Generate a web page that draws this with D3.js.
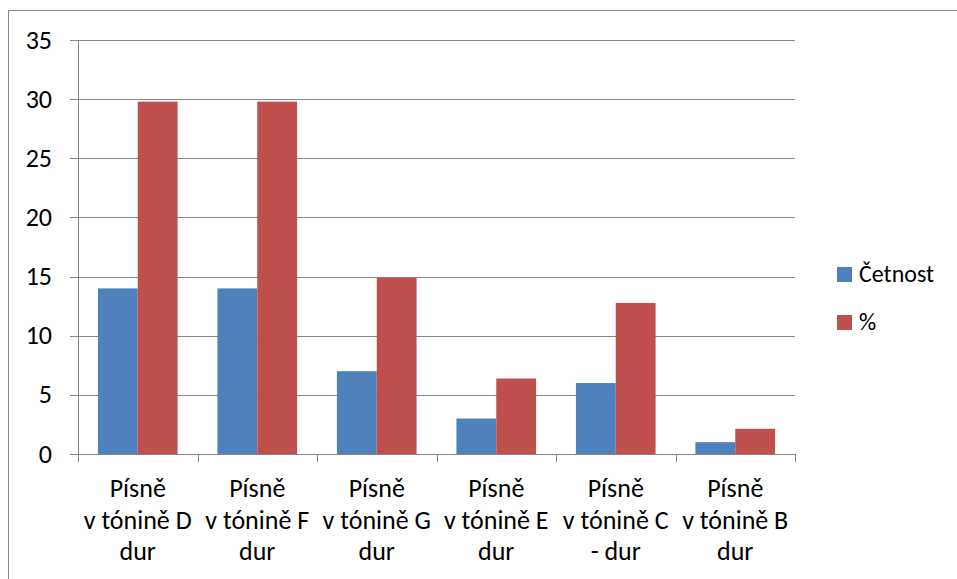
<!DOCTYPE html>
<html>
<head>
<meta charset="utf-8">
<script src="https://cdn.jsdelivr.net/npm/d3@7"></script>
<style>
  body { margin: 0; background: #fff; }
  svg { display: block; font-family: Carlito, Calibri, Lato, "Open Sans", sans-serif; }
</style>
</head>
<body>
<svg id="chart" width="957" height="579"></svg>
<script>
// data
var categories = ["Písně\nv tónině D\ndur", "Písně\nv tónině F\ndur", "Písně\nv tónině G\ndur",
                  "Písně\nv tónině E\ndur", "Písně\nv tónině C\n- dur", "Písně\nv tónině B\ndur"];
var series = ["Četnost", "%"];
var cetnost = [14, 14, 7, 3, 6, 1];
var procenta = [29.79, 29.79, 14.89, 6.38, 12.77, 2.13];
var yTicks = [0, 5, 10, 15, 20, 25, 30, 35];

var svg = d3.select("#chart");
var colors = d3.scaleOrdinal().domain(series).range(["#4F81BD", "#C0504D"]);

// chart frame
svg.append("rect")
    .attr("x", 8.5).attr("y", 10.5)
    .attr("width", 1000).attr("height", 1000)
    .attr("fill", "none").attr("stroke", "#868686");

var x0 = d3.scaleBand().domain(categories).range([78, 795]);
var x1 = d3.scaleBand().domain(series).range([0, x0.bandwidth()]).paddingOuter(0.5);
var y = d3.scaleLinear().domain([0, 35]).range([454, 40]);

// gridlines + y ticks
svg.append("g").selectAll("line")
  .data(yTicks).enter().append("line")
    .attr("x1", 70).attr("x2", 795)
    .attr("y1", function(d) { return Math.round(y(d)) + 0.5; })
    .attr("y2", function(d) { return Math.round(y(d)) + 0.5; })
    .attr("stroke", "#868686").attr("stroke-width", 1);

svg.append("g").selectAll("text")
  .data(yTicks).enter().append("text")
    .attr("x", 52)
    .attr("y", function(d) { return y(d); })
    .attr("dy", "0.33em")
    .attr("text-anchor", "end")
    .attr("font-size", 26)
    .attr("fill", "#000")
    .text(function(d) { return d; });

// bars
var rows = categories.map(function(c, i) { return {cat: c, vals: [cetnost[i], procenta[i]]}; });
svg.append("g").selectAll("g")
  .data(rows).enter().append("g")
    .attr("transform", function(d) { return "translate(" + x0(d.cat) + ",0)"; })
  .selectAll("rect")
  .data(function(d) { return series.map(function(s, j) { return {key: s, value: d.vals[j]}; }); })
  .enter().append("rect")
    .attr("x", function(d) { return x1(d.key); })
    .attr("y", function(d) { return y(d.value); })
    .attr("width", x1.bandwidth())
    .attr("height", function(d) { return y(0) - y(d.value); })
    .attr("fill", function(d) { return colors(d.key); });

// axes lines
svg.append("line")
    .attr("x1", 78.5).attr("x2", 78.5).attr("y1", 40).attr("y2", 454)
    .attr("stroke", "#868686");
svg.append("line")
    .attr("x1", 78).attr("x2", 795).attr("y1", 454.5).attr("y2", 454.5)
    .attr("stroke", "#868686");

var xTickPos = categories.map(function(c) { return x0(c); }).concat([795]);
svg.append("g").selectAll("line")
  .data(xTickPos).enter().append("line")
    .attr("x1", function(d) { return Math.round(d) + 0.5; })
    .attr("x2", function(d) { return Math.round(d) + 0.5; })
    .attr("y1", 454).attr("y2", 462)
    .attr("stroke", "#868686");

// category labels
var lab = svg.append("g").selectAll("text")
  .data(categories).enter().append("text")
    .attr("text-anchor", "middle")
    .attr("font-size", 26)
    .attr("fill", "#000");
lab.selectAll("tspan")
  .data(function(d) { return d.split("\n").map(function(t) { return {t: t, c: d}; }); })
  .enter().append("tspan")
    .attr("x", function(d) { return x0(d.c) + x0.bandwidth() / 2; })
    .attr("y", function(d, i) { return 497 + i * 31.5; })
    .text(function(d) { return d.t; });

// legend
var legend = svg.append("g").selectAll("g")
  .data(series).enter().append("g")
    .attr("transform", function(d, i) { return "translate(837," + (267 + i * 48) + ")"; });
legend.append("rect")
    .attr("width", 15).attr("height", 15)
    .attr("fill", colors);
legend.append("text")
    .attr("x", 22).attr("y", 15)
    .attr("font-size", 24)
    .attr("fill", "#000")
    .text(function(d) { return d; });
</script>
</body>
</html>
